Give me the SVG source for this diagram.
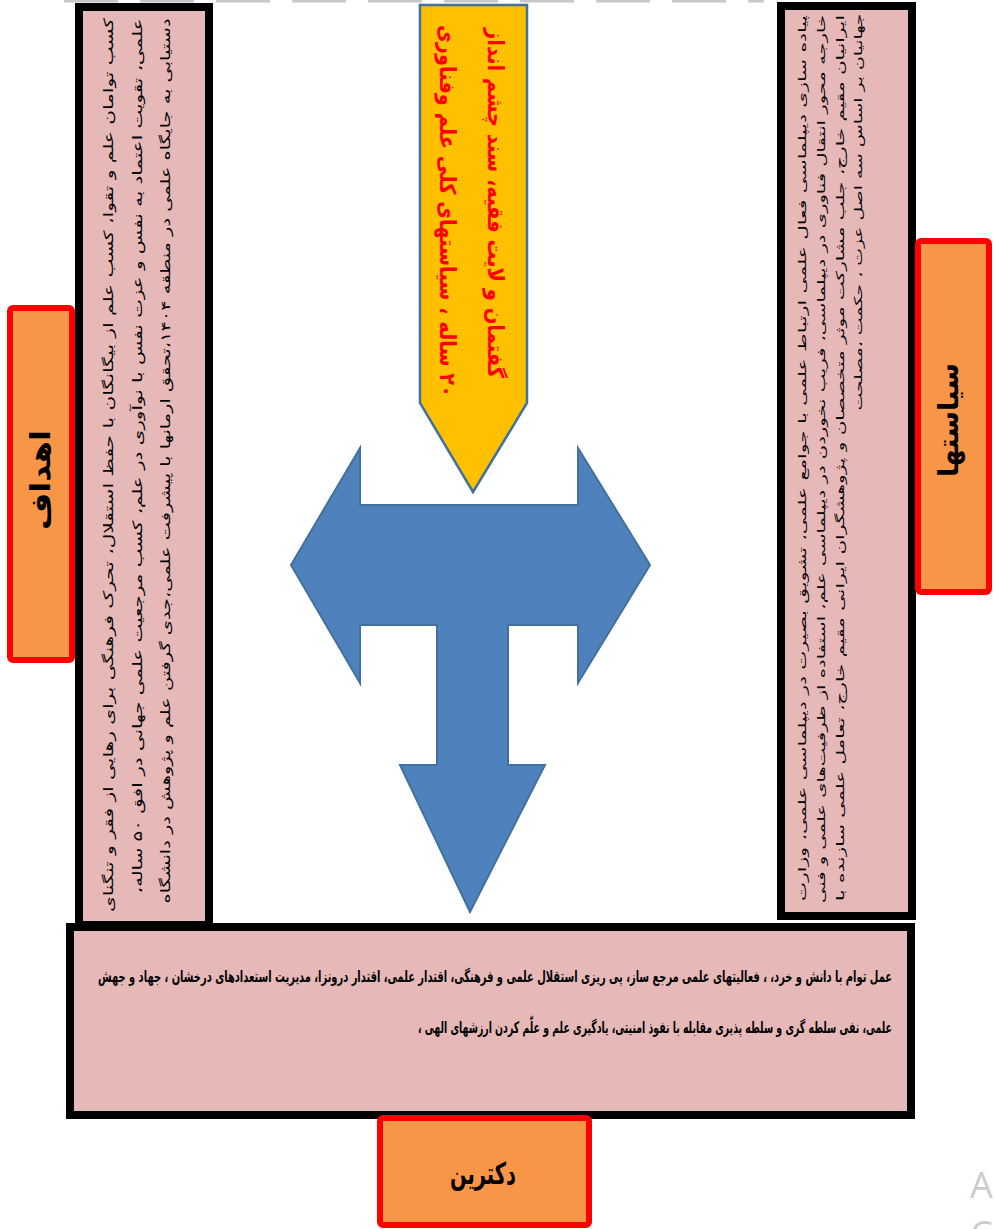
<svg xmlns="http://www.w3.org/2000/svg" width="994" height="1229" viewBox="0 0 994 1229">
<style>
.col{fill:#e6b9b8;stroke:#000;stroke-width:8}
.lbl{fill:#f79646;stroke:#ff0000;stroke-width:6}
.t{font-family:"DejaVu Sans",sans-serif;fill:#000;dominant-baseline:central;text-anchor:middle}
.body{font-size:13px}
.small{font-size:11px}
.head{font-size:28px;font-weight:bold}
.red{font-size:22px;font-weight:bold;fill:#ff0000}
.doc{font-family:"DejaVu Sans Condensed","DejaVu Sans",sans-serif;font-size:10px;font-weight:bold}
</style>
<rect width="994" height="1229" fill="#ffffff"/>
<line x1="64" y1="1" x2="764" y2="1" stroke="#c8c8c8" stroke-width="3" stroke-dasharray="54 22"/>

<g id="connectors">
<path d="M360,448 L291,565 L360,683 L360,625 L437,625 L437,765 L400,765 L470,912 L545,765 L508,765 L508,625 L578,625 L578,683 L650,565 L578,448 L578,505 L360,505 Z" fill="#4f81bd" stroke="#41719c" stroke-width="2"/>
</g>

<g id="node-vision">
<path d="M420,5 L527,5 L527,403 L473,492 L420,403 Z" fill="#ffc000" stroke="#41719c" stroke-width="2.5"/>
<text class="t red" direction="rtl" transform="translate(495,203) rotate(90)" textLength="350" lengthAdjust="spacingAndGlyphs">گفتمان و لایت فقیه، سند چشم انداز</text>
<text class="t red" direction="rtl" transform="translate(447,211) rotate(90)" textLength="372" lengthAdjust="spacingAndGlyphs">۲۰ ساله ، سیاستهای کلی علم وفناوری</text>
</g>

<g id="node-goals">
<rect class="col" x="79" y="7" width="130" height="918"/>
<text class="t body" direction="rtl" transform="translate(108,465) rotate(-90)" textLength="894" lengthAdjust="spacingAndGlyphs">کسب توامان علم و تقوا، کسب علم از بیگانگان با حفظ استقلال، تحرک فرهنگی برای رهایی از فقر و تنگنای</text>
<text class="t body" direction="rtl" transform="translate(137,456) rotate(-90)" textLength="875" lengthAdjust="spacingAndGlyphs">علمی، تقویت اعتماد به نفس و عزت نفس با نوآوری در علم، کسب مرجعیت علمی جهانی در افق ۵۰ ساله،</text>
<text class="t body" direction="rtl" transform="translate(165,461) rotate(-90)" textLength="885" lengthAdjust="spacingAndGlyphs">دستیابی به جایگاه علمی در منطقه ۱۴۰۴،تحقق ارمانها با پیشرفت علمی،جدی گرفتن علم و پژوهش در دانشگاه</text>
<rect class="lbl" x="10" y="308" width="62" height="352" rx="3"/>
<text class="t head" direction="rtl" transform="translate(40,480) rotate(-90)" textLength="100" lengthAdjust="spacingAndGlyphs">اهداف</text>
</g>

<g id="node-policies">
<rect class="col" x="781" y="6" width="131" height="910"/>
<text class="t small" direction="rtl" transform="translate(802,458) rotate(-90)" textLength="886" lengthAdjust="spacingAndGlyphs">پیاده سازی دیپلماسی فعال علمی ارتباط علمی با جوامع علمی، تشویق بصیرت در دیپلماسی علمی، وزارت</text>
<text class="t small" direction="rtl" transform="translate(821,459) rotate(-90)" textLength="888" lengthAdjust="spacingAndGlyphs">خارجه محور انتقال فناوری در دیپلماسی، فریب نخوردن در دیپلماسی علم، استفاده از ظرفیت‌های علمی و فنی</text>
<text class="t small" direction="rtl" transform="translate(840,458) rotate(-90)" textLength="886" lengthAdjust="spacingAndGlyphs">ایرانیان مقیم خارج، جلب مشارکت موثر متخصصان و پژوهشگران ایرانی مقیم خارج، تعامل علمی سازنده با</text>
<text class="t small" direction="rtl" transform="translate(858,212) rotate(-90)" textLength="397" lengthAdjust="spacingAndGlyphs">جهانیان بر اساس سه اصل عزت ، حکمت ،مصلحت</text>
<rect class="lbl" x="918" y="241" width="71" height="351" rx="3"/>
<text class="t head" direction="rtl" transform="translate(948,420) rotate(-90)" textLength="114" lengthAdjust="spacingAndGlyphs">سیاستها</text>
</g>

<g id="node-doctrine">
<rect class="col" x="70" y="927" width="841" height="188" stroke-width="9"/>
<text class="t doc" direction="rtl" transform="translate(495,977) scale(1,1.6)" textLength="794" lengthAdjust="spacingAndGlyphs">عمل توام با دانش و خرد، ، فعالیتهای علمی مرجع ساز، پی ریزی استقلال علمی و فرهنگی، اقتدار علمی، اقتدار درونزا، مدیریت استعدادهای درخشان ، جهاد و جهش</text>
<text class="t doc" direction="rtl" transform="translate(655,1028) scale(1,1.6)" textLength="474" lengthAdjust="spacingAndGlyphs">علمی، نفی سلطه گری و سلطه پذیری مقابله با نفوذ امنیتی، یادگیری علم و علّم کردن ارزشهای الهی ،</text>
<rect class="lbl" x="380" y="1118" width="209" height="107" rx="3"/>
<text class="t head" direction="rtl" x="483" y="1173" style="font-size:30px" textLength="66" lengthAdjust="spacingAndGlyphs">دکترین</text>
</g>

<text x="970" y="1198" font-family="Open Sans, sans-serif" font-size="36" fill="#cccccc">A</text>
<text x="970" y="1247" font-family="Open Sans, sans-serif" font-size="36" fill="#cccccc">C</text>
</svg>
